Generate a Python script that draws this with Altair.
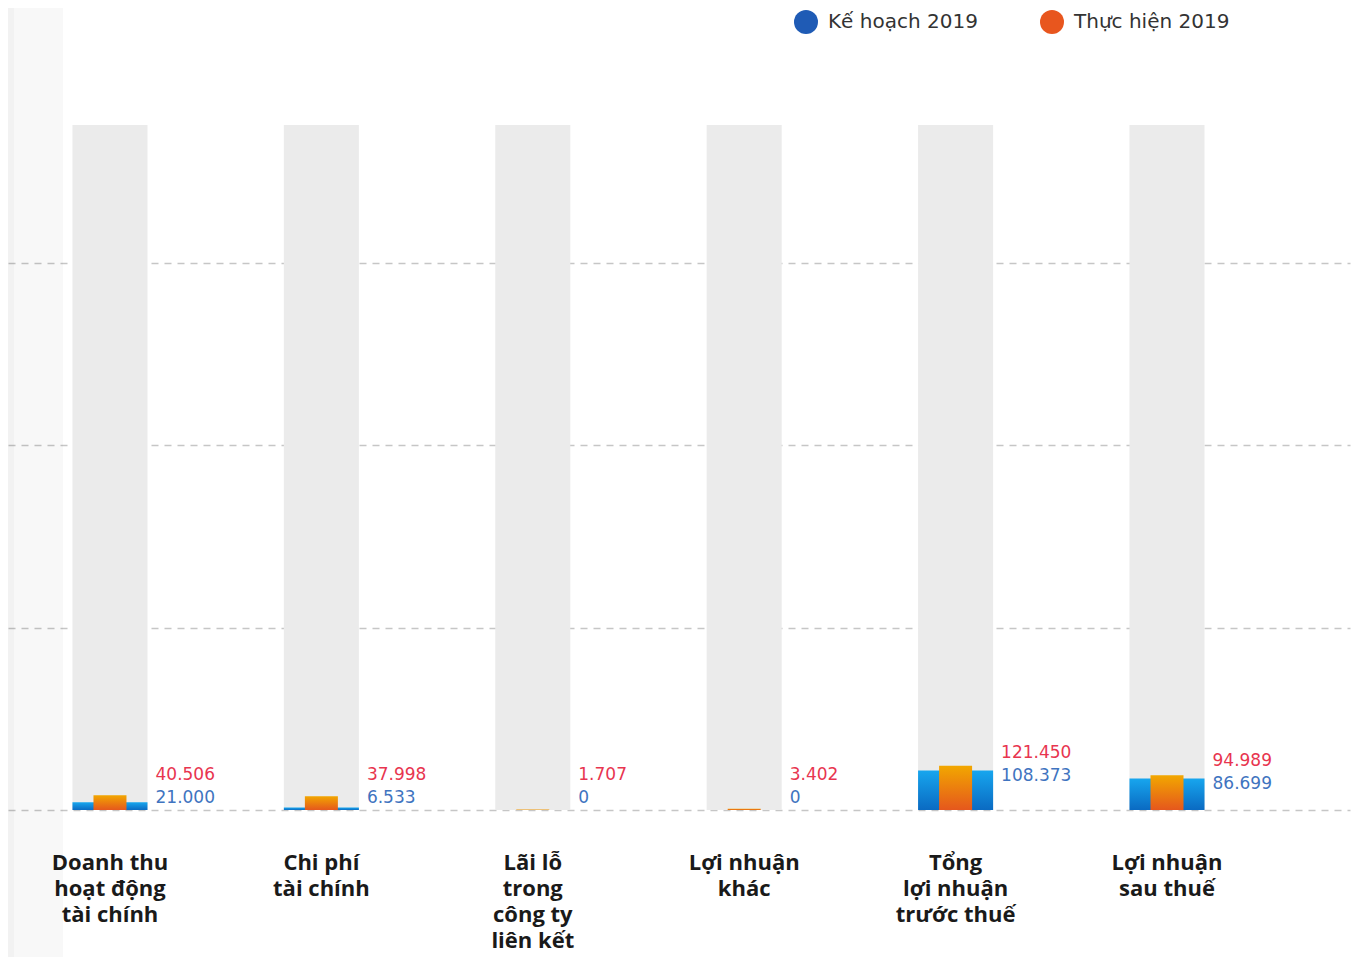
import altair as alt
import pandas as pd

# ---- data ----
categories = [
    "Doanh thu\nhoạt động\ntài chính",
    "Chi phí\ntài chính",
    "Lãi lỗ\ntrong\ncông ty\nliên kết",
    "Lợi nhuận\nkhác",
    "Tổng\nlợi nhuận\ntrước thuế",
    "Lợi nhuận\nsau thuế",
]
ke_hoach = [21.000, 6.533, 0, 0, 108.373, 86.699]
thuc_hien = [40.506, 37.998, 1.707, 3.402, 121.450, 94.989]
background_max = [1878, 1878, 1878, 1878, 1878, 1878]
series_names = ["Kế hoạch 2019", "Thực hiện 2019"]
series_colors = ["#1f5bb5", "#e8561e"]
grid_values = [0, 500, 1000, 1500]

df = pd.DataFrame({"cat": categories, "kh": ke_hoach, "th": thuc_hien, "bg": background_max})
legend_df = pd.DataFrame({
    "cat": categories[:2],
    "v": [0, 0],
    "series": series_names,
})

FONT = "Open Sans"
NUM_FONT = "DejaVu Sans"
W, H = 1342, 766

xscale = alt.Scale(domain=categories, paddingInner=0.645, paddingOuter=0.4965, align=0.307)
xaxis = alt.Axis(
    title=None, labelExpr="split(datum.label, '\\n')", labelAngle=0,
    labelFont=FONT, labelFontSize=22, labelFontWeight="bold", labelColor="#1a1a1a",
    labelLineHeight=26, labelPadding=42, labelLimit=400, ticks=False, domain=False,
    grid=False,
)
yscale = alt.Scale(domain=[0, 2100], nice=False)
yaxis = alt.Axis(
    title=None, values=grid_values, labels=False, ticks=False, domain=False,
    grid=True, gridDash=[7, 6], gridColor="#c6c6c6", gridWidth=1.5,
)

X = alt.X("cat:N", sort=categories, scale=xscale, axis=xaxis)
XR = alt.X("cat:N", sort=categories, scale=xscale, axis=xaxis, bandPosition=1)

base = alt.Chart(df)
single = base.transform_aggregate(n="count()")

strip_dark = single.mark_rect(color="#000000", opacity=0.05).encode(
    x=alt.value(0), x2=alt.value(6), y=alt.value(-36), y2=alt.value(H + 150)
)
strip_light = single.mark_rect(color="#000000", opacity=0.028).encode(
    x=alt.value(6), x2=alt.value(55), y=alt.value(-36), y2=alt.value(H + 150)
)

gray = base.mark_bar(color="#ebebeb").encode(
    x=X, y=alt.Y("bg:Q", scale=yscale, axis=yaxis)
)

blue_grad = alt.Gradient(
    gradient="linear",
    stops=[alt.GradientStop(offset=0, color="#17a6ee"), alt.GradientStop(offset=1, color="#0a6ac2")],
    x1=0, x2=0, y1=0, y2=1,
)
orange_grad = alt.Gradient(
    gradient="linear",
    stops=[alt.GradientStop(offset=0, color="#f2a700"), alt.GradientStop(offset=1, color="#e5571d")],
    x1=0, x2=0, y1=0, y2=1,
)

blue = base.mark_bar(color=blue_grad).encode(
    x=X, y=alt.Y("kh:Q", scale=yscale, axis=yaxis)
)
orange = base.mark_bar(color=orange_grad, size=33).encode(
    x=X, y=alt.Y("th:Q", scale=yscale, axis=yaxis)
)

labels = base.transform_calculate(
    lab_y="max(datum.kh - 16.5, 33)",
    kh_txt="datum.kh == 0 ? '0' : format(datum.kh, '.3f')",
    th_txt="datum.th == 0 ? '0' : format(datum.th, '.3f')",
)
blue_txt = labels.mark_text(
    align="left", baseline="middle", dx=8, font=NUM_FONT, fontSize=17, color="#3f74c0"
).encode(x=XR, y=alt.Y("lab_y:Q", scale=yscale, axis=yaxis), text="kh_txt:N")
red_txt = labels.mark_text(
    align="left", baseline="middle", dx=8, dy=-23, font=NUM_FONT, fontSize=17, color="#e8354f"
).encode(x=XR, y=alt.Y("lab_y:Q", scale=yscale, axis=yaxis), text="th_txt:N")

legend_layer = alt.Chart(legend_df).mark_point(filled=True, opacity=0).encode(
    x=X,
    y=alt.Y("v:Q", scale=yscale, axis=yaxis),
    color=alt.Color(
        "series:N",
        scale=alt.Scale(domain=series_names, range=series_colors),
        legend=alt.Legend(
            title=None, orient="none", legendX=786, legendY=-34, direction="horizontal",
            symbolType="circle", symbolSize=576, symbolOpacity=1, symbolStrokeWidth=0,
            labelFont=NUM_FONT, labelFontSize=20, labelColor="#333333", labelOffset=10,
            columnPadding=62, labelLimit=300,
        ),
    ),
)

chart = alt.layer(
    strip_dark, strip_light, gray, blue, orange, blue_txt, red_txt, legend_layer
).properties(
    width=W, height=H,
    background="white",
    autosize=alt.AutoSizeParams(type="none"),
    padding={"left": 0, "top": 36, "right": 8, "bottom": 147},
).configure_view(strokeWidth=0, stroke=None)

chart.save("out.html", embed_options={"renderer": "svg", "actions": False})
